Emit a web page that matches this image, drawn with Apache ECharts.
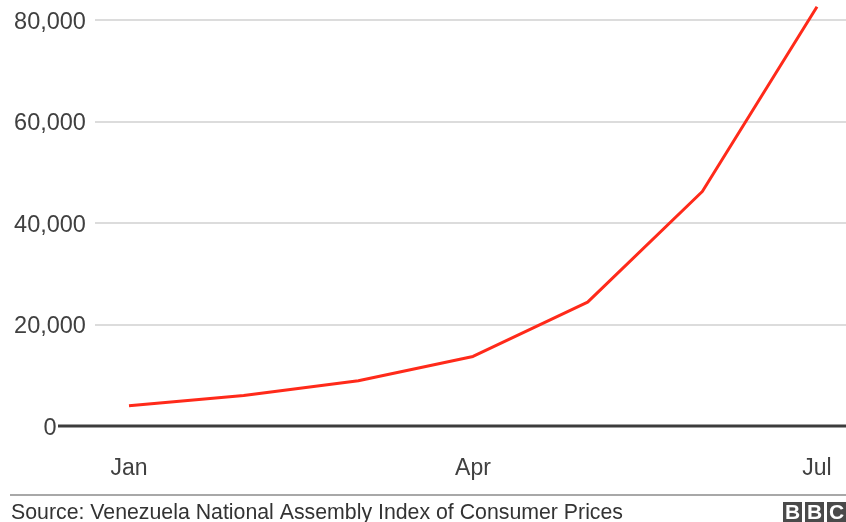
<!DOCTYPE html>
<html>
<head>
<meta charset="utf-8">
<script src="https://cdn.jsdelivr.net/npm/echarts@6/dist/echarts.min.js"></script>
<style>
html,body{margin:0;padding:0;background:#fff;}
#main{width:846px;height:522px;}
</style>
</head>
<body>
<div id="main"></div>
<script>
// Data
var months = ['Jan','Feb','Mar','Apr','May','Jun','Jul'];
var cpiValues = [4000, 6000, 8900, 13700, 24400, 46200, 82600];
var xLabelIndices = [0, 3, 6];
var yTicks = [0, 20000, 40000, 60000, 80000];
var sourceText = 'Source: Venezuela National Assembly Index of Consumer Prices';
var logoLetters = ['B', 'B', 'C'];

var seriesData = cpiValues.map(function (v, i) { return [i, v]; });

var chart = echarts.init(document.getElementById('main'), null, {renderer: 'canvas'});
var FONT = '"Liberation Sans", Arial, Helvetica, sans-serif';

var option = {
  animation: false,
  backgroundColor: '#ffffff',
  grid: {left: 95, right: 0, top: 20, bottom: 96, containLabel: false},
  xAxis: {
    type: 'value',
    min: -0.2965,
    max: 6.253,
    axisLine: {show: false},
    axisTick: {show: false},
    splitLine: {show: false},
    axisLabel: {
      customValues: xLabelIndices,
      formatter: function (v) { return months[Math.round(v)]; },
      color: '#404040',
      fontSize: 23,
      fontFamily: FONT,
      margin: 31
    }
  },
  yAxis: {
    type: 'value',
    min: yTicks[0],
    max: yTicks[yTicks.length - 1],
    interval: yTicks[1] - yTicks[0],
    axisLine: {show: false},
    axisTick: {show: false},
    splitLine: {show: true, lineStyle: {color: '#dcdcdc', width: 2}},
    axisLabel: {
      color: '#404040',
      fontSize: 23.5,
      fontFamily: FONT,
      margin: 45,
      align: 'center',
      formatter: function (v) { return '{a|' + v.toLocaleString('en-US') + '}'; },
      rich: {
        a: {color: '#404040', fontSize: 23.5, fontFamily: FONT, padding: [5, 0, 0, 0]}
      }
    }
  },
  series: [{
    type: 'line',
    data: seriesData,
    clip: false,
    symbol: 'none',
    lineStyle: {color: '#ff2a1a', width: 3},
    z: 5
  }]
};
chart.setOption(option);

// Zero baseline extending to just right of the "0" label
var zeroY = chart.convertToPixel({yAxisIndex: 0}, 0);
var logoGraphics = logoLetters.map(function (ch, i) {
  var x0 = 783 + i * 22;
  return {
    type: 'group',
    children: [
      {type: 'rect', shape: {x: x0, y: 502, width: 19, height: 24}, style: {fill: '#4a4a4a'}},
      {type: 'text', style: {x: x0 + 9.5, y: 503, text: ch, fill: '#ffffff', font: 'bold 21px ' + FONT, textAlign: 'center', textVerticalAlign: 'top'}}
    ]
  };
});

chart.setOption({
  graphic: [
    {type: 'line', shape: {x1: 58, y1: zeroY, x2: 846, y2: zeroY}, style: {stroke: '#3c3c3c', lineWidth: 3}, z: 3},
    {type: 'line', shape: {x1: 10, y1: 495, x2: 846, y2: 495}, style: {stroke: '#a8a8a8', lineWidth: 2}},
    {type: 'text', style: {x: 11, y: 503, text: sourceText, fill: '#333333', font: '21.3px ' + FONT, textVerticalAlign: 'top'}}
  ].concat(logoGraphics)
});
</script>
</body>
</html>
